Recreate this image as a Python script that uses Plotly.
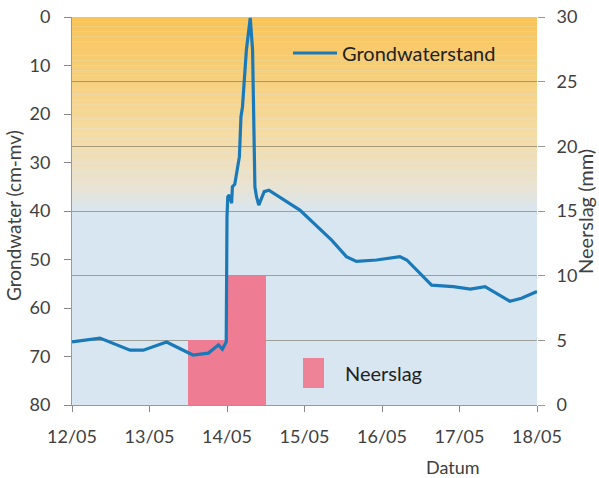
import pandas as pd
import plotly.graph_objects as go

# Grondwaterstand (cm-mv), time as fractional days after 12/05 00:00
gw_days = [0.00, 0.36, 0.75, 0.92, 1.22, 1.56, 1.76, 1.89, 1.94, 1.99,
           2.00, 2.01, 2.03, 2.06, 2.07, 2.10, 2.16, 2.18, 2.20, 2.25,
           2.30, 2.33, 2.36, 2.38, 2.41, 2.48, 2.54, 2.94, 3.35, 3.54,
           3.67, 3.93, 4.23, 4.32, 4.64, 4.92, 5.14, 5.33, 5.65, 5.80, 6.00]
gw_level = [67.0, 66.2, 68.7, 68.7, 67.0, 69.7, 69.3, 67.6, 68.5, 67.0,
            41.2, 37.1, 36.7, 38.4, 35.0, 34.5, 28.8, 20.6, 18.5, 6.8,
            0.2, 6.8, 35.0, 37.0, 38.8, 36.0, 35.7, 39.8, 46.0, 49.4,
            50.4, 50.1, 49.4, 50.1, 55.3, 55.6, 56.1, 55.6, 58.6, 58.0, 56.6]

# Neerslag (mm), 12-hour totals
rain_start = ["2013-05-13 12:00", "2013-05-14 00:00"]
rain_mm = [5, 10]

tick_days = ["2013-05-12", "2013-05-13", "2013-05-14", "2013-05-15",
             "2013-05-16", "2013-05-17", "2013-05-18"]

t0 = pd.Timestamp("2013-05-12")
gw_time = [t0 + pd.Timedelta(days=d) for d in gw_days]
half_day = 12 * 3600 * 1000
rain_mid = [pd.Timestamp(s) + pd.Timedelta(hours=6) for s in rain_start]

FONT = "Lato"
TXT = "#404040"
L, R, T, B = 72, 537, 17, 405  # plot area in pixels


def px(x):
    return (x - L) / (R - L)


def py(y):
    return (B - y) / (B - T)


fig = go.Figure()

fig.add_trace(go.Bar(
    x=rain_mid, y=rain_mm, width=[half_day] * len(rain_mm),
    marker=dict(color="#EE7C93", line=dict(width=0)),
    name="Neerslag", yaxis="y", showlegend=False,
))

fig.add_trace(go.Scatter(
    x=gw_time, y=gw_level, mode="lines",
    line=dict(color="#1A7AB9", width=3.2),
    name="Grondwaterstand", yaxis="y2",
))

# background gradient: orange at the top fading into light blue at 40 cm
top = (249, 196, 88)
mid = (245, 220, 165)
low = (232, 228, 214)
blue = (216, 230, 242)
steps = 40
for i in range(steps):
    f = i / steps
    if f < 0.6:
        a, b, g = top, mid, f / 0.6
    elif f < 0.88:
        a, b, g = mid, low, (f - 0.6) / 0.28
    else:
        a, b, g = low, blue, (f - 0.88) / 0.12
    c = tuple(int(a[k] + (b[k] - a[k]) * g) for k in range(3))
    fig.add_shape(type="rect", xref="paper", yref="y2",
                  x0=0, x1=1, y0=40 * i / steps, y1=40 * (i + 1) / steps,
                  fillcolor="rgb(%d,%d,%d)" % c, line=dict(width=0),
                  layer="below")

# legend key for Neerslag
fig.add_shape(type="rect", xref="paper", yref="paper",
              x0=px(303), x1=px(324), y0=py(388), y1=py(358),
              fillcolor="#EE8398", line=dict(width=0))
fig.add_annotation(text="Neerslag", xref="paper", yref="paper",
                   x=px(343), y=py(373), xanchor="left", yanchor="middle",
                   showarrow=False,
                   font=dict(family=FONT, size=20, color="#222222"))
fig.add_annotation(text="Datum", xref="paper", yref="paper",
                   x=px(453), y=py(467), xanchor="center", yanchor="middle",
                   showarrow=False,
                   font=dict(family=FONT, size=18, color=TXT))
fig.add_annotation(text="Grondwater (cm-mv)", xref="paper", yref="paper",
                   x=px(14), y=py(216), xanchor="center", yanchor="middle",
                   textangle=-90, showarrow=False,
                   font=dict(family=FONT, size=19, color=TXT))
fig.add_annotation(text="Neerslag (mm)", xref="paper", yref="paper",
                   x=px(585), y=py(212), xanchor="center", yanchor="middle",
                   textangle=-90, showarrow=False,
                   font=dict(family=FONT, size=20, color=TXT))

fig.update_layout(
    width=599, height=478,
    margin=dict(l=L, r=599 - R, t=T, b=478 - B, autoexpand=False),
    paper_bgcolor="white",
    plot_bgcolor="rgb(216,230,242)",
    font=dict(family=FONT, size=18, color=TXT),
    bargap=0,
    legend=dict(x=px(288), y=py(53), xanchor="left", yanchor="middle",
                itemwidth=44, bgcolor="rgba(0,0,0,0)",
                font=dict(family=FONT, size=20, color="#222222")),
    xaxis=dict(
        type="date", range=[tick_days[0], tick_days[-1]],
        tickvals=tick_days, tickformat="%d/%m",
        ticks="outside", ticklen=6, tickcolor="#888888",
        ticklabelstandoff=9,
        showgrid=False, showline=True, linecolor="#999999",
        zeroline=False, automargin=False,
    ),
    yaxis=dict(
        side="right", range=[0, 30], dtick=5,
        ticks="outside", ticklen=7, tickcolor="#999999",
        ticklabelstandoff=8,
        showgrid=True, gridcolor="rgba(110,100,80,0.55)", gridwidth=1,
        showline=False, zeroline=False, automargin=False,
    ),
    yaxis2=dict(
        overlaying="y", side="left", range=[80, 0], dtick=10,
        ticks="outside", ticklen=7, tickcolor="#888888",
        ticklabelstandoff=10,
        showgrid=False, showline=True, linecolor="#999999",
        zeroline=False, automargin=False,
    ),
)

# the page body has a default margin; remove it so the figure sits at 0,0
fig.write_html("out.html", config={"displayModeBar": False},
               post_script="document.body.style.margin='0';")
